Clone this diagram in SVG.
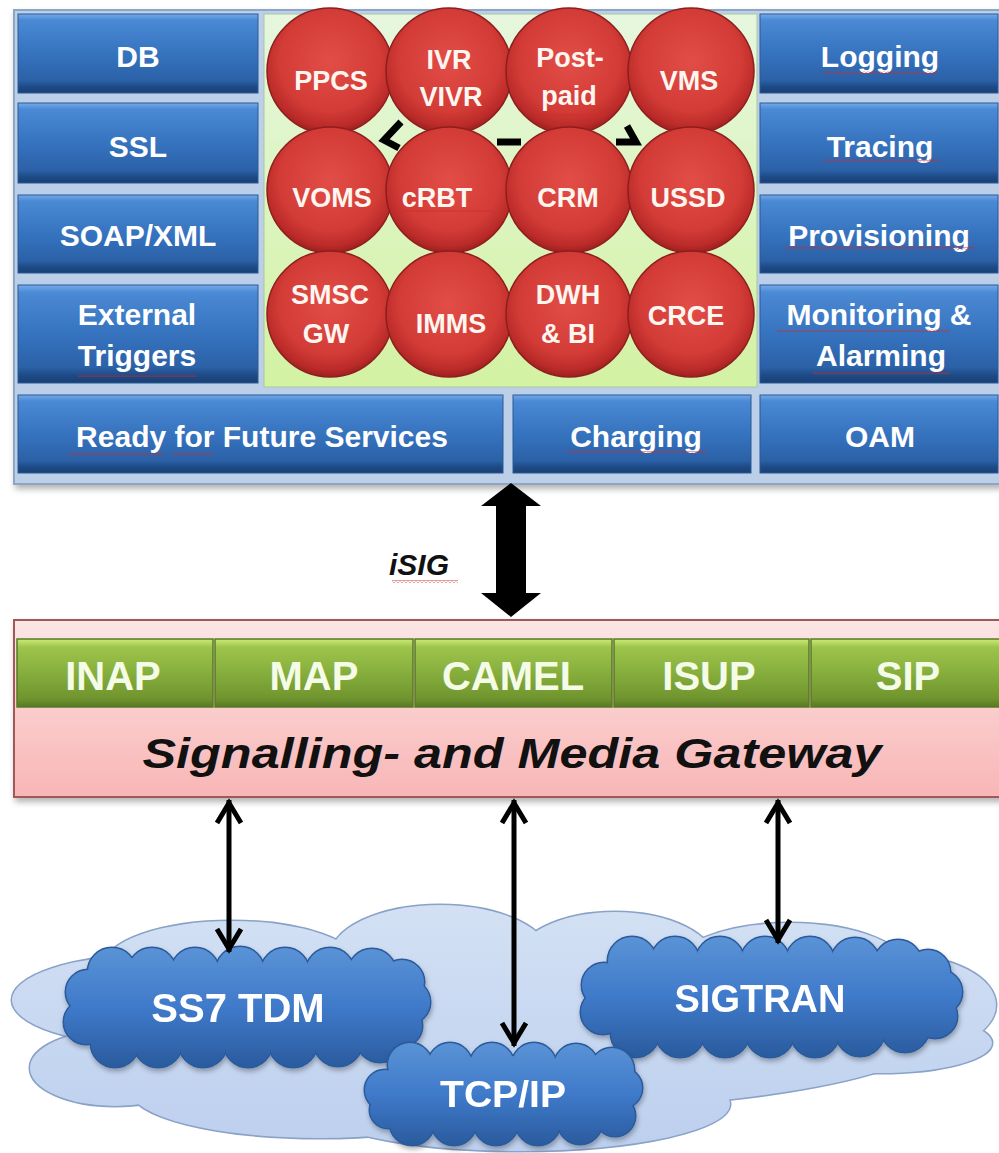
<svg xmlns="http://www.w3.org/2000/svg" xmlns:xlink="http://www.w3.org/1999/xlink" width="999" height="1153" viewBox="0 0 999 1153">
<style>
.box{fill:url(#gBlue);stroke:#2b5a94;stroke-width:1}
.bt{font-family:"Liberation Sans",Arial,sans-serif;font-weight:bold;font-size:30px;fill:#ffffff;text-anchor:middle}
.ball{fill:url(#gRed);stroke:#8e1e1e;stroke-width:1.5}
.ct{font-family:"Liberation Sans",Arial,sans-serif;font-weight:bold;font-size:27px;fill:#fff6f0;text-anchor:middle}
.proto{fill:url(#gGreen);stroke:#587a24;stroke-width:1.5}
.pt{font-family:"Liberation Sans",Arial,sans-serif;font-weight:bold;font-size:40px;fill:#f4fbe6;text-anchor:middle}
.cl{font-family:"Liberation Sans",Arial,sans-serif;font-weight:bold;fill:#ffffff;text-anchor:middle}
.sq{fill:url(#squig)}
.hid{stroke:#000;stroke-width:7;fill:none;stroke-linecap:butt}
.conn{stroke:#000;stroke-width:5;fill:none;marker-start:url(#chev);marker-end:url(#chev)}
</style>
<defs>
<linearGradient id="gBlue" x1="0" y1="0" x2="0" y2="1">
<stop offset="0" stop-color="#74aaea"/>
<stop offset="0.08" stop-color="#4a89d4"/>
<stop offset="0.5" stop-color="#3673bf"/>
<stop offset="0.84" stop-color="#2b61a7"/>
<stop offset="0.92" stop-color="#1e4b87"/>
<stop offset="1" stop-color="#183f74"/>
</linearGradient>
<radialGradient id="gRed" cx="0.5" cy="0.42" r="0.58">
<stop offset="0" stop-color="#e34d47"/>
<stop offset="0.7" stop-color="#d23b36"/>
<stop offset="0.9" stop-color="#bb2b29"/>
<stop offset="1" stop-color="#9c2020"/>
</radialGradient>
<linearGradient id="gGreen" x1="0" y1="0" x2="0" y2="1">
<stop offset="0" stop-color="#cdea78"/>
<stop offset="0.12" stop-color="#9dc54b"/>
<stop offset="0.5" stop-color="#86ae3d"/>
<stop offset="0.88" stop-color="#6f942e"/>
<stop offset="1" stop-color="#587824"/>
</linearGradient>
<linearGradient id="gPink" x1="0" y1="0" x2="0" y2="1">
<stop offset="0" stop-color="#fce6e6"/>
<stop offset="0.35" stop-color="#fbd3d3"/>
<stop offset="1" stop-color="#f8b6b6"/>
</linearGradient>
<linearGradient id="gLime" x1="0" y1="0" x2="0" y2="1">
<stop offset="0" stop-color="#e6f7de"/>
<stop offset="1" stop-color="#d3f2a2"/>
</linearGradient>
<linearGradient id="gLight" x1="0" y1="900" x2="0" y2="1152" gradientUnits="userSpaceOnUse">
<stop offset="0" stop-color="#d4e1f4"/>
<stop offset="1" stop-color="#bccfee"/>
</linearGradient>
<linearGradient id="gSS7" x1="0" y1="947" x2="0" y2="1067" gradientUnits="userSpaceOnUse">
<stop offset="0" stop-color="#5a93d6"/>
<stop offset="0.5" stop-color="#3f7aca"/>
<stop offset="1" stop-color="#2a5b9e"/>
</linearGradient>
<linearGradient id="gSIG" x1="0" y1="937" x2="0" y2="1057" gradientUnits="userSpaceOnUse">
<stop offset="0" stop-color="#5a93d6"/>
<stop offset="0.5" stop-color="#3f7aca"/>
<stop offset="1" stop-color="#2a5b9e"/>
</linearGradient>
<linearGradient id="gTCP" x1="0" y1="1043" x2="0" y2="1145" gradientUnits="userSpaceOnUse">
<stop offset="0" stop-color="#5a93d6"/>
<stop offset="0.5" stop-color="#3f7aca"/>
<stop offset="1" stop-color="#2a5b9e"/>
</linearGradient>
<pattern id="squig" width="4" height="3" patternUnits="userSpaceOnUse">
<path d="M0,2.5 L2,0.5 L4,2.5" fill="none" stroke="#d02828" stroke-width="0.9"/>
</pattern>
<filter id="sh" x="-5%" y="-5%" width="110%" height="115%">
<feDropShadow dx="2" dy="4" stdDeviation="3" flood-color="#000" flood-opacity="0.3"/>
</filter>
<filter id="sh2" x="-10%" y="-10%" width="120%" height="130%">
<feDropShadow dx="1" dy="3" stdDeviation="2.5" flood-color="#000" flood-opacity="0.3"/>
</filter>
<marker id="chev" markerUnits="userSpaceOnUse" orient="auto-start-reverse" refX="3" refY="0" overflow="visible">
<path d="M-20,-12 L0,0 L-20,12" fill="none" stroke="#000" stroke-width="5" stroke-linejoin="miter"/>
</marker>
<g id="lightShape">
<ellipse cx="150" cy="1000" rx="138" ry="45"/>
<ellipse cx="232" cy="966" rx="128" ry="45"/>
<ellipse cx="115" cy="1068" rx="85" ry="38"/>
<ellipse cx="320" cy="1090" rx="190" ry="48"/>
<ellipse cx="440" cy="957" rx="110" ry="52"/>
<ellipse cx="615" cy="962" rx="100" ry="50"/>
<ellipse cx="790" cy="972" rx="120" ry="49"/>
<ellipse cx="900" cy="1005" rx="96" ry="50"/>
<ellipse cx="880" cy="1043" rx="112" ry="30"/>
<ellipse cx="520" cy="1104" rx="210" ry="47"/>
<ellipse cx="520" cy="1030" rx="420" ry="80"/>
</g>
<g id="ss7Shape">
<ellipse cx="247" cy="1007" rx="160" ry="42"/>
<circle cx="112" cy="972" r="24"/><circle cx="152" cy="972" r="24"/><circle cx="195" cy="972" r="24"/><circle cx="240" cy="971" r="24"/><circle cx="285" cy="972" r="24"/><circle cx="330" cy="972" r="24"/><circle cx="372" cy="973" r="24"/><circle cx="402" cy="982" r="22"/>
<circle cx="115" cy="1043" r="24"/><circle cx="158" cy="1043" r="24"/><circle cx="203" cy="1043" r="24"/><circle cx="248" cy="1043" r="24"/><circle cx="293" cy="1043" r="24"/><circle cx="338" cy="1042" r="24"/><circle cx="380" cy="1038" r="24"/>
<circle cx="88" cy="992" r="22"/><circle cx="86" cy="1022" r="22"/><circle cx="408" cy="1002" r="22"/><circle cx="402" cy="1026" r="20"/>
</g>
<g id="sigShape">
<ellipse cx="771" cy="997" rx="165" ry="42"/>
<circle cx="632" cy="961" r="24"/><circle cx="675" cy="961" r="24"/><circle cx="720" cy="961" r="24"/><circle cx="765" cy="961" r="24"/><circle cx="810" cy="961" r="24"/><circle cx="855" cy="962" r="24"/><circle cx="898" cy="964" r="24"/><circle cx="928" cy="972" r="22"/>
<circle cx="635" cy="1033" r="24"/><circle cx="680" cy="1033" r="24"/><circle cx="725" cy="1033" r="24"/><circle cx="770" cy="1033" r="24"/><circle cx="815" cy="1033" r="24"/><circle cx="860" cy="1032" r="24"/><circle cx="905" cy="1028" r="24"/>
<circle cx="604" cy="985" r="22"/><circle cx="603" cy="1012" r="22"/><circle cx="940" cy="992" r="22"/><circle cx="935" cy="1016" r="22"/>
</g>
<g id="tcpShape">
<ellipse cx="503" cy="1094" rx="120" ry="38"/>
<circle cx="410" cy="1065" r="22"/><circle cx="450" cy="1065" r="22"/><circle cx="492" cy="1065" r="22"/><circle cx="534" cy="1065" r="22"/><circle cx="576" cy="1066" r="22"/><circle cx="612" cy="1070" r="22"/>
<circle cx="412" cy="1123" r="22"/><circle cx="454" cy="1123" r="22"/><circle cx="496" cy="1123" r="22"/><circle cx="538" cy="1123" r="22"/><circle cx="580" cy="1122" r="22"/><circle cx="615" cy="1116" r="20"/>
<circle cx="385" cy="1090" r="20"/><circle cx="388" cy="1110" r="18"/><circle cx="622" cy="1088" r="20"/>
</g>
</defs>

<rect width="999" height="1153" fill="#ffffff"/>

<!-- Top panel -->
<g id="top-frame">
<rect x="14" y="10" width="1000" height="474" fill="#bccfe8" stroke="#8ea6c6" stroke-width="2" filter="url(#sh)"/>
</g>

<g id="service-area">
<rect x="264" y="14" width="493" height="373" fill="url(#gLime)" stroke="#a9c7a0" stroke-width="1"/>
<path class="hid" d="M401,122 L384,140 L399,148"/>
<path class="hid" d="M497,142 L521,142"/>
<path class="hid" d="M616,142 L636,142 L627,126"/>
</g>

<g id="box-db"><rect class="box" x="18" y="14" width="240" height="79"/><text class="bt" x="138" y="67">DB</text></g>
<g id="box-ssl"><rect class="box" x="18" y="103" width="240" height="80"/><text class="bt" x="138" y="157">SSL</text></g>
<g id="box-soap"><rect class="box" x="18" y="195" width="240" height="78"/><text class="bt" x="138" y="246">SOAP/XML</text></g>
<g id="box-ext"><rect class="box" x="18" y="285" width="240" height="98"/><text class="bt" x="137" y="325">External</text><text class="bt" x="137" y="366">Triggers</text><rect class="sq" x="78" y="374" width="119" height="3"/></g>

<g id="box-logging"><rect class="box" x="760" y="14" width="238" height="79"/><text class="bt" x="880" y="67">Logging</text><rect class="sq" x="823" y="71" width="114" height="3"/></g>
<g id="box-tracing"><rect class="box" x="760" y="103" width="238" height="80"/><text class="bt" x="880" y="157">Tracing</text><rect class="sq" x="823" y="159" width="117" height="3"/></g>
<g id="box-prov"><rect class="box" x="760" y="195" width="238" height="78"/><text class="bt" x="879" y="246">Provisioning</text><rect class="sq" x="785" y="247" width="190" height="3"/></g>
<g id="box-mon"><rect class="box" x="760" y="285" width="238" height="98"/><text class="bt" x="879" y="325">Monitoring &amp;</text><text class="bt" x="881" y="366">Alarming</text><rect class="sq" x="777" y="329" width="173" height="3"/><rect class="sq" x="813" y="372" width="137" height="3"/></g>

<g id="box-ready"><rect class="box" x="18" y="395" width="485" height="78"/><text class="bt" x="262" y="447">Ready for Future Services</text><rect class="sq" x="68" y="452" width="95" height="3"/><rect class="sq" x="172" y="452" width="41" height="3"/></g>
<g id="box-charging"><rect class="box" x="513" y="395" width="238" height="78"/><text class="bt" x="636" y="447">Charging</text><rect class="sq" x="567" y="451" width="140" height="3"/></g>
<g id="box-oam"><rect class="box" x="760" y="395" width="238" height="78"/><text class="bt" x="880" y="447">OAM</text></g>

<!-- service circles -->
<g id="svc-ppcs"><circle class="ball" cx="330" cy="71" r="63"/><text class="ct" x="331" y="90">PPCS</text></g>
<g id="svc-ivr"><circle class="ball" cx="449" cy="71" r="63"/><text class="ct" x="449" y="69">IVR</text><text class="ct" x="451" y="106">VIVR</text></g>
<g id="svc-postpaid"><circle class="ball" cx="569" cy="71" r="63"/><text class="ct" x="570" y="67">Post-</text><text class="ct" x="569" y="105">paid</text><rect class="sq" x="538" y="113" width="69" height="3"/></g>
<g id="svc-vms"><circle class="ball" cx="691" cy="71" r="63"/><text class="ct" x="689" y="90">VMS</text></g>

<g id="svc-voms"><circle class="ball" cx="330" cy="190" r="63"/><text class="ct" x="332" y="207">VOMS</text></g>
<g id="svc-crbt"><circle class="ball" cx="449" cy="190" r="63"/><text class="ct" x="437" y="207">cRBT</text><rect class="sq" x="405" y="209" width="88" height="3"/></g>
<g id="svc-crm"><circle class="ball" cx="569" cy="190" r="63"/><text class="ct" x="568" y="207">CRM</text></g>
<g id="svc-ussd"><circle class="ball" cx="691" cy="190" r="63"/><text class="ct" x="688" y="207">USSD</text></g>

<g id="svc-smsc"><circle class="ball" cx="330" cy="314" r="63"/><text class="ct" x="330" y="304">SMSC</text><text class="ct" x="326" y="343">GW</text></g>
<g id="svc-imms"><circle class="ball" cx="449" cy="314" r="63"/><text class="ct" x="451" y="333">IMMS</text></g>
<g id="svc-dwh"><circle class="ball" cx="569" cy="314" r="63"/><text class="ct" x="568" y="304">DWH</text><text class="ct" x="568" y="343">&amp; BI</text></g>
<g id="svc-crce"><circle class="ball" cx="691" cy="314" r="63"/><text class="ct" x="686" y="325">CRCE</text></g>

<!-- Gateway -->
<g id="gateway">
<rect x="14" y="620" width="1000" height="177" fill="url(#gPink)" stroke="#a05858" stroke-width="2" filter="url(#sh)"/>
<text x="512" y="768" font-family="'Liberation Sans',Arial,sans-serif" font-weight="bold" font-style="italic" font-size="42" fill="#111" text-anchor="middle" textLength="739" lengthAdjust="spacingAndGlyphs">Signalling- and Media Gateway</text>
</g>
<g id="proto-inap"><rect class="proto" x="17" y="639" width="196" height="68"/><text class="pt" x="113" y="690">INAP</text></g>
<g id="proto-map"><rect class="proto" x="215" y="639" width="198" height="68"/><text class="pt" x="314" y="690">MAP</text></g>
<g id="proto-camel"><rect class="proto" x="415" y="639" width="197" height="68"/><text class="pt" x="513" y="690">CAMEL</text></g>
<g id="proto-isup"><rect class="proto" x="614" y="639" width="195" height="68"/><text class="pt" x="709" y="690">ISUP</text></g>
<g id="proto-sip"><rect class="proto" x="811" y="639" width="200" height="68"/><text class="pt" x="908" y="690">SIP</text></g>

<!-- Clouds -->
<g id="cloud-network">
<use xlink:href="#lightShape" fill="#c8d8f0" stroke="#8aa2c8" stroke-width="3"/>
<use xlink:href="#lightShape" fill="url(#gLight)" stroke="none"/>
</g>
<g id="cloud-ss7" filter="url(#sh2)">
<use xlink:href="#ss7Shape" fill="#2a5a9a" stroke="#2a5a9a" stroke-width="3"/>
<use xlink:href="#ss7Shape" fill="url(#gSS7)" stroke="none"/>
<text class="cl" x="238" y="1022" font-size="40">SS7 TDM</text>
</g>
<g id="cloud-sigtran" filter="url(#sh2)">
<use xlink:href="#sigShape" fill="#2a5a9a" stroke="#2a5a9a" stroke-width="3"/>
<use xlink:href="#sigShape" fill="url(#gSIG)" stroke="none"/>
<text class="cl" x="760" y="1012" font-size="38">SIGTRAN</text>
</g>
<g id="cloud-tcpip" filter="url(#sh2)">
<use xlink:href="#tcpShape" fill="#2a5a9a" stroke="#2a5a9a" stroke-width="3"/>
<use xlink:href="#tcpShape" fill="url(#gTCP)" stroke="none"/>
<text class="cl" x="503" y="1107" font-size="36" textLength="126" lengthAdjust="spacingAndGlyphs">TCP/IP</text>
</g>

<!-- Connectors -->
<g id="connectors">
<polygon points="511,483 541,506 526,506 526,593 541,593 511,617 481,593 496,593 496,506 481,506" fill="#000"/>
<text x="419" y="575" font-family="'Liberation Sans',Arial,sans-serif" font-weight="bold" font-style="italic" font-size="30" fill="#111" text-anchor="middle">iSIG</text>
<rect class="sq" x="392" y="580" width="66" height="3"/>
<line class="conn" x1="229" y1="800" x2="229" y2="952"/>
<line class="conn" x1="514" y1="800" x2="514" y2="1046"/>
<line class="conn" x1="778" y1="800" x2="778" y2="943"/>
</g>
</svg>
